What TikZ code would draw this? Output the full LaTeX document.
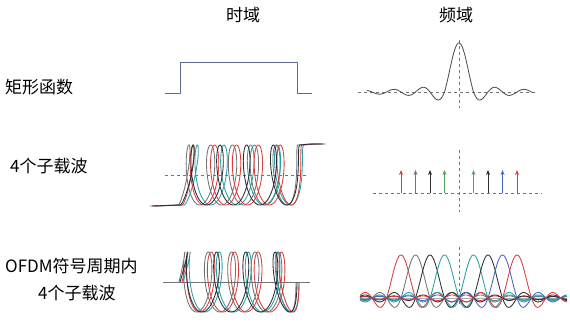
\documentclass[tikz,border=0pt]{standalone}
\usepackage{fontspec}
\setmainfont{Noto Sans CJK SC}
\usetikzlibrary{arrows.meta}
\definecolor{cred}{RGB}{222,60,60}
\definecolor{cteal}{RGB}{40,160,165}
\definecolor{cdark}{RGB}{45,45,50}
\definecolor{cgray}{RGB}{115,115,120}
\definecolor{cgreen}{RGB}{80,160,95}
\definecolor{cblue}{RGB}{70,100,190}
\definecolor{crect}{RGB}{95,105,150}
% coil: colour, x start, x end, y centre, amplitude, loop radius, t start, t end
\newcommand\drawcoil[8]{%
  \draw[wave,#1] plot[domain=#7:#8,samples=360,variable=\t]
    ({#2+(#3-#2)*((\t-#7)/(#8-#7))-#6*env((\t-#7)/(#8-#7))*sin(\t)},{#4-#5*cos(\t)});}
\begin{document}
\begin{tikzpicture}[x=1pt,y=-1pt,
  declare function={env(\u)=1-((2*\u-1)*(2*\u-1))^3;
                     sinc(\u)=sin(180*(\u+0.0007))/(3.14159*(\u+0.0007));
                     lobe(\u)=sinc(\u)*ifthenelse(abs(\u)<1,1,0.75);},
  lbl/.style={font=\fontsize{17}{20}\selectfont,inner sep=0pt},
  wave/.style={line width=0.85,line join=round},
  axisd/.style={cgray,line width=0.7,dash pattern=on 3 off 3},
  arr/.style={line width=0.9,-{Stealth[length=5,width=4]}}]
\useasboundingbox (0,0) rectangle (570,322);
\fill[white] (0,0) rectangle (570,322);

% column and row titles
\node[lbl] (th) at (243,15) {时域};
\node[lbl] (fh) at (456,15) {频域};
\node[lbl,anchor=west] (r1) at (5,87) {矩形函数};
\node[lbl,anchor=west] (r2) at (10,166) {4个子载波};
\node[lbl,anchor=west] (r3a) at (5,266) {OFDM符号周期内};
\node[lbl,anchor=west] (r3b) at (38,293) {4个子载波};

% row 1, time domain: rectangular pulse
\draw[wave,crect] (165,93) -- (180,93) -- (180,62) -- (297,62) -- (297,93) -- (312,93);

% row 1, frequency domain: sinc
\draw[axisd] (358,92) -- (536,92);
\draw[axisd] (459,40) -- (459,108);
\draw[wave,cgray!70!black] plot[domain=367:533,samples=300,variable=\x] (\x,{92-49*lobe((\x-459)/14.5)});

% row 2, time domain: four subcarriers
\draw[axisd] (165,175) -- (307,175);
\foreach \c/\xs/\xe/\te in {cgray/178/298/2160,cteal/184/304/1800,cred/182/302/2160,cdark/180/300/1800}{
  \draw[wave,\c] (\xs-28,176+30) .. controls (\xs-14,176+30) .. (\xs,175+30);
  \draw[wave,\c] (\xe,175-30) .. controls (\xe+10,175-31) .. (\xe+22,175-31);
  \drawcoil{\c}{\xs}{\xe}{175}{30}{9}{180}{\te}
}

% row 2, frequency domain: spectral lines
\draw[axisd] (373,193) -- (542,193);
\draw[axisd] (459,150) -- (459,212);
\foreach \k/\c in {-4/cred,-3/cgray,-2/cdark,-1/cgreen,1/cgreen,2/cdark,3/cblue,4/cred}
  \draw[arr,\c] ({459+14.5*\k},193) -- ({459+14.5*\k},170);

% row 3, time domain: four subcarriers within one symbol period
\draw[cgray,line width=1] (163,282) -- (310,282);
\foreach \c/\xs/\xe/\te in {cgray/179/296/2070,cteal/183/299/1710,cred/182/299/2070,cdark/180/297/1710}{
  \drawcoil{\c}{\xs}{\xe}{282}{30}{9}{270}{\te}
}

% row 3, frequency domain: overlapping sinc spectra
\draw[cgray!60,line width=0.6] (360,298) -- (567,298);
\draw[axisd] (459,247) -- (459,305);
\foreach \k/\c in {-4/cred,-3/cgray,-2/cdark,-1/cteal,1/cteal,2/cdark,3/cblue,4/cred}
  \draw[wave,\c] plot[domain=360:567,samples=300,variable=\x] (\x,{298-43*sinc((\x-459-14.5*\k)/14.5)});
\end{tikzpicture}
\end{document}
